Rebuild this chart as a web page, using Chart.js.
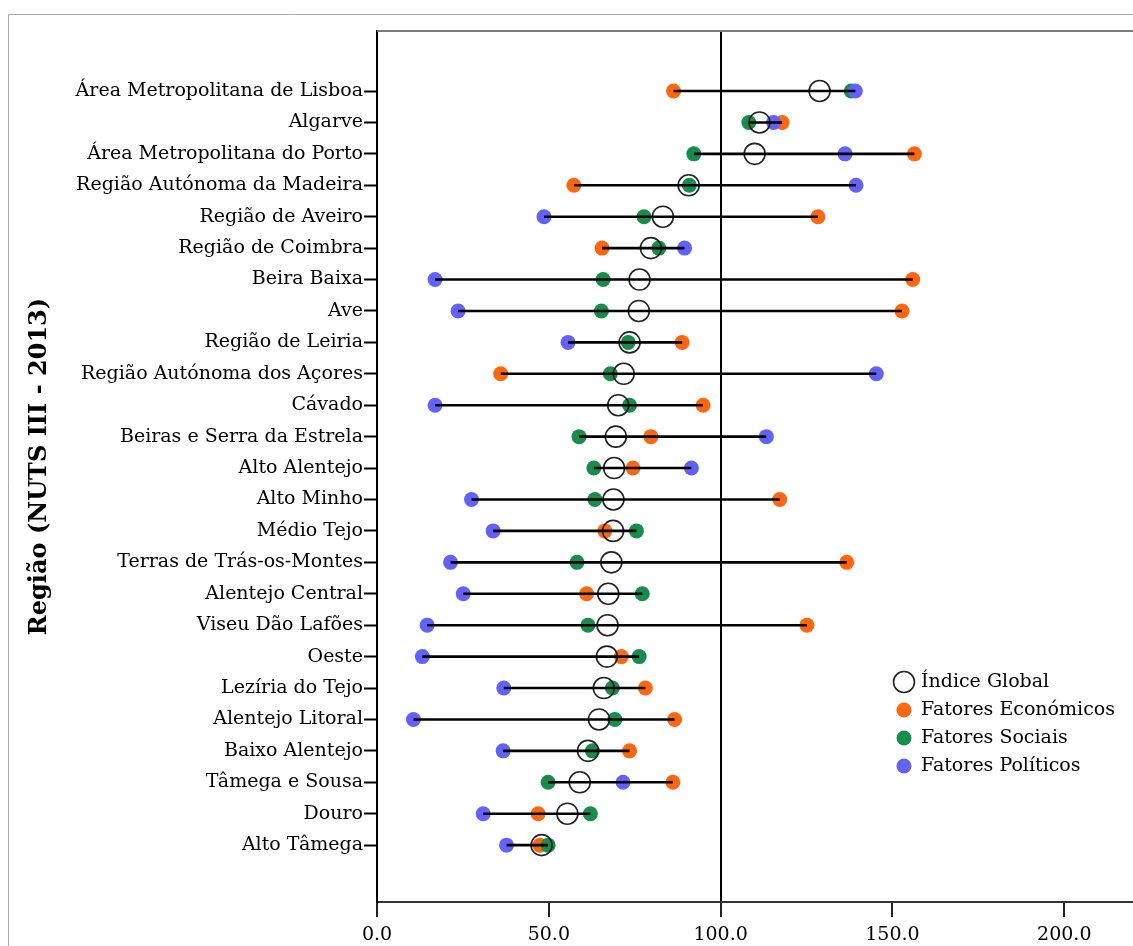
<!DOCTYPE html>
<html lang="pt">
<head>
<meta charset="utf-8">
<title>Índice por região NUTS III</title>
<script src="https://cdn.jsdelivr.net/npm/chart.js@4.4.1/dist/chart.umd.min.js"></script>
<style>
  html, body { margin: 0; padding: 0; background: #fff; }
  #wrap { position: relative; width: 1133px; height: 946px; }
</style>
</head>
<body>
<div id="wrap"><canvas id="chart"></canvas></div>
<script>
const regioes = [
  'Área Metropolitana de Lisboa', 'Algarve', 'Área Metropolitana do Porto',
  'Região Autónoma da Madeira', 'Região de Aveiro', 'Região de Coimbra',
  'Beira Baixa', 'Ave', 'Região de Leiria', 'Região Autónoma dos Açores',
  'Cávado', 'Beiras e Serra da Estrela', 'Alto Alentejo', 'Alto Minho',
  'Médio Tejo', 'Terras de Trás-os-Montes', 'Alentejo Central',
  'Viseu Dão Lafões', 'Oeste', 'Lezíria do Tejo', 'Alentejo Litoral',
  'Baixo Alentejo', 'Tâmega e Sousa', 'Douro', 'Alto Tâmega'
];
const indiceGlobal = [128.8, 111.3, 109.9, 90.7, 83.2, 79.7, 76.4, 76.2, 73.5, 71.8, 70.2, 69.5, 69.0, 68.8, 68.7, 68.2, 67.3, 67.1, 66.9, 66.0, 64.6, 61.4, 59.0, 55.4, 47.9];
const economicos   = [86.3, 117.9, 156.4, 57.3, 128.3, 65.5, 155.9, 152.8, 88.8, 36.0, 94.9, 79.7, 74.5, 117.2, 66.3, 136.7, 61.0, 125.1, 71.1, 78.1, 86.6, 73.5, 86.1, 46.9, 47.4];
const sociais      = [138.0, 108.2, 92.2, 90.9, 77.7, 82.0, 65.8, 65.3, 73.1, 67.9, 73.5, 58.8, 63.1, 63.4, 75.5, 58.2, 77.2, 61.4, 76.3, 68.5, 69.2, 62.7, 49.8, 62.1, 49.8];
const politicos    = [139.2, 115.4, 136.2, 139.4, 48.6, 89.5, 16.9, 23.6, 55.6, 145.3, 16.9, 113.3, 91.5, 27.5, 33.8, 21.4, 25.1, 14.6, 13.2, 36.9, 10.6, 36.7, 71.6, 30.9, 37.7];
const xTicks = [0, 50, 100, 150, 200];

const SERIF = '"DejaVu Serif", "Liberation Serif", serif';
const COR_ECO = '#ff6610';
const COR_SOC = '#188c4a';
const COR_POL = '#6262fb';

const pts = arr => arr.map((v, i) => ({ x: v, y: i }));

// one black segment per region, from the lowest to the highest value
const rangeSets = regioes.map((r, i) => {
  const vals = [indiceGlobal[i], economicos[i], sociais[i], politicos[i]];
  return {
    label: r,
    data: [{ x: Math.min(...vals), y: i }, { x: Math.max(...vals), y: i }],
    showLine: true,
    borderColor: '#000',
    borderWidth: 2.6,
    pointRadius: 0,
    order: 0
  };
});

const pointSets = [
  { label: 'Índice Global', data: pts(indiceGlobal), pointRadius: 10.5,
    pointBackgroundColor: 'rgba(0,0,0,0)', pointBorderColor: '#222', pointBorderWidth: 1.6, order: 1 },
  { label: 'Fatores Económicos', data: pts(economicos), pointRadius: 7.5,
    pointBackgroundColor: COR_ECO, pointBorderWidth: 0, order: 4 },
  { label: 'Fatores Sociais', data: pts(sociais), pointRadius: 7.5,
    pointBackgroundColor: COR_SOC, pointBorderWidth: 0, order: 3 },
  { label: 'Fatores Políticos', data: pts(politicos), pointRadius: 7.5,
    pointBackgroundColor: COR_POL, pointBorderWidth: 0, order: 2 }
];

const decor = {
  id: 'decor',
  beforeDraw(chart) {
    const { ctx } = chart;
    ctx.save();
    ctx.strokeStyle = '#a8a8a8';
    ctx.lineWidth = 1;
    ctx.beginPath();
    ctx.moveTo(8.5, chart.height);
    ctx.lineTo(8.5, 14.5);
    ctx.lineTo(chart.width, 14.5);
    ctx.stroke();
    ctx.restore();
  },
  afterDraw(chart) {
    const { ctx, chartArea: a } = chart;
    ctx.save();
    ctx.strokeStyle = '#7a7a7a';
    ctx.lineWidth = 2;
    ctx.beginPath();
    ctx.moveTo(a.left, a.top);
    ctx.lineTo(a.right, a.top);
    ctx.stroke();

    // legend, lower right of the plot
    const lx = a.left + 527, ly = a.top + 651, step = 28;
    ctx.font = '19px ' + SERIF;
    ctx.textBaseline = 'middle';
    ctx.textAlign = 'left';
    pointSets.forEach((ds, k) => {
      const y = ly + k * step;
      ctx.beginPath();
      ctx.arc(lx, y, ds.pointRadius, 0, Math.PI * 2);
      if (ds.pointBorderWidth) {
        ctx.strokeStyle = ds.pointBorderColor;
        ctx.lineWidth = ds.pointBorderWidth;
        ctx.stroke();
      } else {
        ctx.fillStyle = ds.pointBackgroundColor;
        ctx.fill();
      }
      ctx.fillStyle = '#000';
      ctx.fillText(ds.label, lx + 17, y);
    });
    ctx.restore();
  }
};

new Chart(document.getElementById('chart'), {
  type: 'scatter',
  data: { datasets: [...rangeSets, ...pointSets] },
  options: {
    responsive: true,
    maintainAspectRatio: false,
    animation: false,
    layout: { autoPadding: false, padding: { top: 31, right: 0, bottom: 0, left: 0 } },
    plugins: { legend: { display: false }, tooltip: { enabled: false } },
    scales: {
      x: {
        type: 'linear',
        min: 0,
        max: 220,
        afterBuildTicks: s => { s.ticks = xTicks.map(v => ({ value: v })); },
        afterFit: s => { s.height = 44; s.paddingLeft = 0; s.paddingRight = 0; },
        ticks: {
          callback: v => v.toFixed(1),
          font: { family: SERIF, size: 19 },
          color: '#000',
          padding: 7,
          maxRotation: 0
        },
        grid: {
          color: c => (c.tick && c.tick.value === 100 ? '#000' : 'rgba(0,0,0,0)'),
          lineWidth: 2,
          tickColor: '#222',
          tickLength: 15,
          tickWidth: 2
        },
        border: { color: '#333', width: 2 }
      },
      y: {
        type: 'linear',
        reverse: true,
        min: -1.91,
        max: 25.81,
        afterBuildTicks: s => { s.ticks = regioes.map((r, i) => ({ value: i })); },
        afterFit: s => { s.width = 377; s.paddingTop = 0; s.paddingBottom = 0; },
        ticks: {
          callback: v => regioes[v],
          font: { family: SERIF, size: 19 },
          color: '#000',
          padding: 1,
          autoSkip: false
        },
        grid: {
          drawOnChartArea: false,
          tickColor: '#000',
          tickLength: 13,
          tickWidth: 2
        },
        border: { color: '#000', width: 2 },
        title: {
          display: true,
          text: 'Região (NUTS III - 2013)',
          font: { family: SERIF, size: 24, weight: 'bold' },
          color: '#000',
          padding: { top: 25, bottom: 0 }
        }
      }
    }
  },
  plugins: [decor]
});
</script>
</body>
</html>
